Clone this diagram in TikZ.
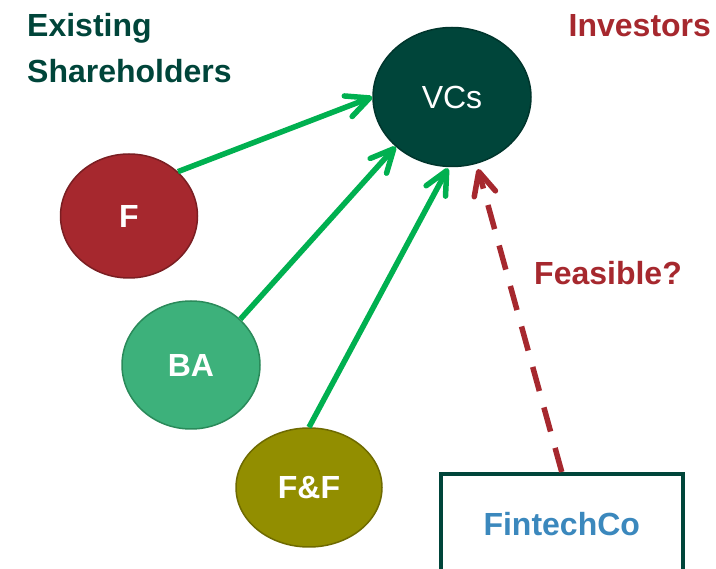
\documentclass[tikz,border=0pt]{standalone}
\usepackage{fontspec}
\setmainfont{Liberation Sans}
\usetikzlibrary{shapes.geometric,arrows.meta}

\definecolor{dkgreen}{HTML}{00453A}
\definecolor{dkgreenline}{HTML}{00352C}
\definecolor{fred}{HTML}{A6282E}
\definecolor{fredline}{HTML}{7A1E22}
\definecolor{bagreen}{HTML}{3DB17B}
\definecolor{bagreenline}{HTML}{2A8A5A}
\definecolor{olive}{HTML}{928E00}
\definecolor{oliveline}{HTML}{6E6A00}
\definecolor{arrowgreen}{HTML}{00B050}
\definecolor{fcblue}{HTML}{3B88BD}

% open chevron head with straight, rounded strokes 5.5pt wide
\pgfdeclarearrow{
  name = Chevron,
  parameters = {\the\pgfarrowlength,\the\pgfarrowwidth},
  setup code = {
    \pgfarrowssettipend{2.75pt}
    \pgfarrowssetlineend{-1pt}
    \pgfarrowssetbackend{-\pgfarrowlength}
    \pgfarrowssetvisualbackend{-\pgfarrowlength}
    \pgfarrowshullpoint{0pt}{0pt}
    \pgfarrowsupperhullpoint{-\pgfarrowlength}{.5\pgfarrowwidth}
    \pgfarrowssavethe\pgfarrowlength
    \pgfarrowssavethe\pgfarrowwidth
  },
  drawing code = {
    \pgfsetlinewidth{5.5pt}
    \pgfsetdash{}{0pt}
    \pgfsetroundcap
    \pgfsetroundjoin
    \pgfpathmoveto{\pgfpoint{-\pgfarrowlength}{.5\pgfarrowwidth}}
    \pgfpathlineto{\pgfpointorigin}
    \pgfpathlineto{\pgfpoint{-\pgfarrowlength}{-.5\pgfarrowwidth}}
    \pgfusepathqstroke
  },
  defaults = {length=23pt, width=22pt}
}

\tikzset{
  party/.style={ellipse, inner sep=0pt, line width=1.5pt, text=white,
    font=\fontsize{32}{38}\selectfont\bfseries},
  barb/.style={-{Chevron[length=23pt,width=22pt]}},
  flow/.style={draw=arrowgreen, line width=5.5pt, barb},
  maybe/.style={draw=fred, line width=5.5pt, dash pattern=on 25pt off 17pt,
    barb},
  heading/.style={font=\fontsize{32}{46}\selectfont\bfseries, inner sep=0pt},
}

\begin{document}
\begin{tikzpicture}[x=1pt, y=-1pt]
  \useasboundingbox (0,0) rectangle (716,569);

  % headings
  \node[heading, text=dkgreen, align=left, anchor=north west]
        (holders) at (27,13.5) {Existing\\Shareholders};
  \node[heading, text=fred, anchor=base west] (investors) at (568.5,37)
        {Investors};

  % investor and shareholders
  \node[party, fill=dkgreen, draw=dkgreenline, minimum width=158pt,
        minimum height=139pt, font=\fontsize{32}{38}\selectfont]
        (VCs) at (452,97) {VCs};
  \node[party, fill=fred, draw=fredline, minimum width=137pt,
        minimum height=124pt] (F) at (129,216) {F};
  \node[party, fill=bagreen, draw=bagreenline, minimum width=138pt,
        minimum height=128pt] (BA) at (191,365) {BA};
  \node[party, fill=olive, draw=oliveline, minimum width=146pt,
        minimum height=119pt] (FF) at (309,487.5) {F\&F};

  % company box (runs past the lower edge)
  \node[draw=dkgreen, line width=4pt, minimum width=242.5pt,
        minimum height=100pt, inner sep=0pt, text=fcblue,
        font=\fontsize{32}{38}\selectfont\bfseries]
        (fc) at (561.75,524) {FintechCo};

  % connectors
  \draw[flow] (F.north east) -- (VCs.west);
  \draw[flow] (BA.north east) -- (VCs.south west);
  \coordinate (ffend) at ([shift={(-4,1)}]VCs.south);
  \draw[flow] (FF.north) -- (ffend);
  \coordinate (fcend) at (478,169);
  \draw[maybe] (fc.north) -- (fcend);

  \node[heading, text=fred, anchor=base west] (feasible) at (534,285)
        {Feasible?};
\end{tikzpicture}
\end{document}
